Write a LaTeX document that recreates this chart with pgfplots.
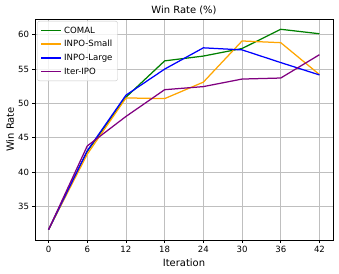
\documentclass[border=0pt]{standalone}
\usepackage{pgfplots}
\pgfplotsset{compat=1.18}
\usepackage{fontspec}
\setmainfont{DejaVu Sans}
\begin{document}
\fontsize{8.6}{10}\selectfont
\begin{tikzpicture}
\begin{axis}[
  at={(0,0)}, anchor=south west,
  scale only axis, width=298bp, height=221bp,
  xmin=-2.1, xmax=44.1, ymin=30.1, ymax=62.3,
  xtick={0,6,12,18,24,30,36,42},
  ytick={35,40,45,50,55,60},
  /pgf/number format/assume math mode=true,
  tick label style={font=\fontsize{8.6}{10}\selectfont},
  every axis title shift=0pt,
  title style={font=\fontsize{10}{12}\selectfont, at={(axis description cs:0.5,1)}, anchor=base, yshift=5bp},
  title={Win Rate (\%)},
  xlabel={Iteration}, ylabel={Win Rate},
  xlabel style={font=\fontsize{10}{12}\selectfont, at={(axis description cs:0.5,0)}, anchor=base, yshift=-26bp},
  ylabel style={font=\fontsize{10}{12}\selectfont, at={(axis description cs:-0.0705,0.5)}, anchor=base},
  grid=major,
  major grid style={draw=black!25, line width=0.6bp},
  axis line style={draw=black, line width=0.7bp},
  tick align=outside, major tick length=2.8bp,
  tick style={draw=black, line width=0.6bp},
  xtick pos=bottom, ytick pos=left,
  legend style={font=\fontsize{8.6}{10}\selectfont, draw=black!22, rounded corners=2bp, fill=white, fill opacity=0.8, text opacity=1, draw opacity=1, at={(axis description cs:0.0077,0.991)}, anchor=north west, row sep=3bp, inner xsep=3bp, inner ysep=4bp, nodes={inner xsep=2bp, inner ysep=1.5bp}},
  legend cell align=left,
  legend image code/.code={\draw[#1, line width=1.7bp] (0bp,0bp) -- (20bp,0bp);},
]
\addplot[line width=1.25bp, color={rgb,255:red,0;green,128;blue,0}] coordinates {(0,31.6) (6,43.0) (12,50.9) (18,56.2) (24,56.9) (30,58.0) (36,60.8) (42,60.15)};
\addlegendentry{COMAL}
\addplot[line width=1.25bp, color={rgb,255:red,255;green,165;blue,0}] coordinates {(0,31.6) (6,42.6) (12,50.8) (18,50.7) (24,53.1) (30,59.1) (36,58.85) (42,54.2)};
\addlegendentry{INPO-Small}
\addplot[line width=1.25bp, color={rgb,255:red,0;green,0;blue,255}] coordinates {(0,31.6) (6,43.1) (12,51.2) (18,55.0) (24,58.1) (30,57.8) (36,55.95) (42,54.15)};
\addlegendentry{INPO-Large}
\addplot[line width=1.25bp, color={rgb,255:red,128;green,0;blue,128}] coordinates {(0,31.6) (6,43.8) (12,48.1) (18,52.0) (24,52.45) (30,53.55) (36,53.7) (42,57.1)};
\addlegendentry{Iter-IPO}
\end{axis}
\pgfresetboundingbox
\path[use as bounding box] (-35bp,-34bp) rectangle (304bp,240bp);
\end{tikzpicture}
\end{document}
